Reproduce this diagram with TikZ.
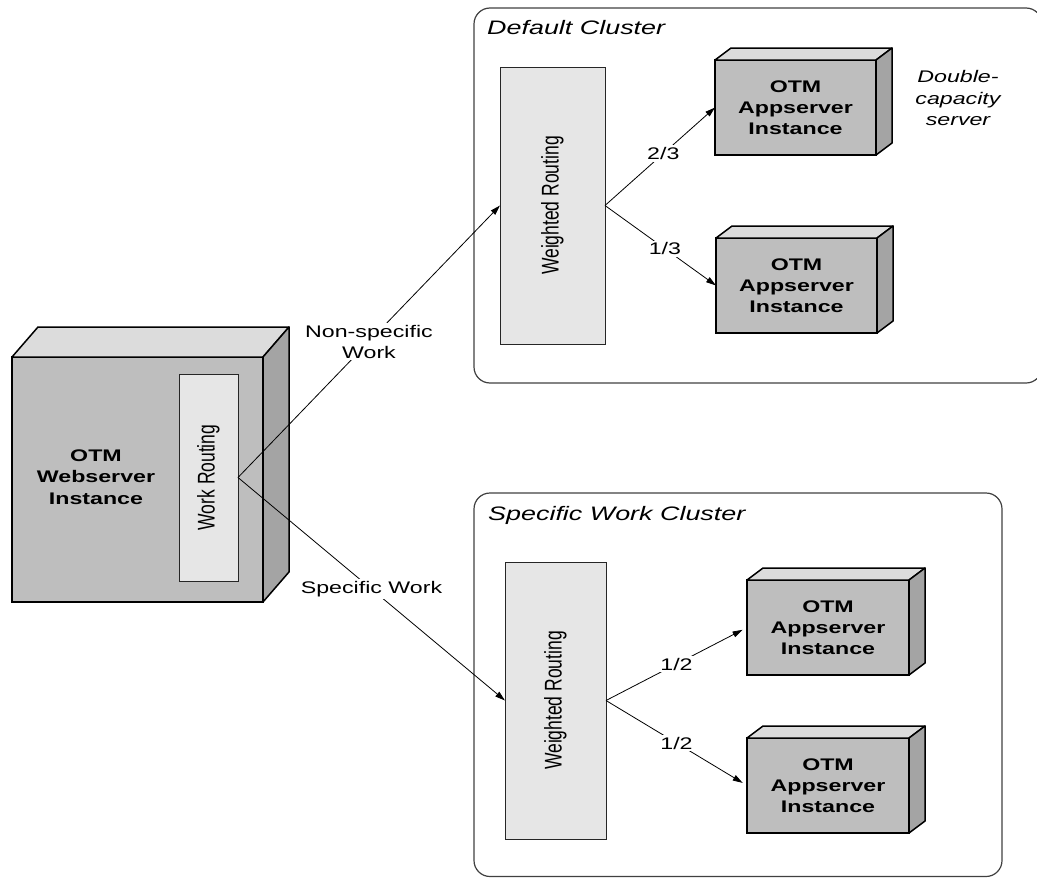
\documentclass[tikz,border=0pt]{standalone}
\usepackage{graphicx}
\usepackage{fontspec}
\setmainfont{Liberation Sans}
\usetikzlibrary{arrows.meta}
\newcommand\sx[1]{\scalebox{1.38}[1]{#1}}
\newcommand\sy[1]{\scalebox{1}[1.38]{#1}}
\definecolor{frontgray}{HTML}{BEBEBE}
\definecolor{topgray}{HTML}{DCDCDC}
\definecolor{sidegray}{HTML}{A4A4A4}
\definecolor{panelgray}{HTML}{E6E6E6}
\newcommand\boxfaces[3]{%
  \draw[faceline, fill=topgray] (#1.north west) -- ++(#2,#3) -- ([shift={(#2,#3)}]#1.north east) -- (#1.north east) -- cycle;
  \draw[faceline, fill=sidegray] (#1.north east) -- ++(#2,#3) -- ([shift={(#2,#3)}]#1.south east) -- (#1.south east) -- cycle;
}
\tikzset{
 faceline/.style={draw=black, line width=1.5pt, line join=round},
 front/.style={draw=black, line width=1.8pt, fill=frontgray, outer sep=0pt, inner sep=0pt,
   font=\bfseries\fontsize{16.8}{21}\selectfont, align=center},
 panel/.style={draw=black!85, line width=0.9pt, fill=panelgray, outer sep=0pt, inner sep=0pt},
 cluster/.style={draw=black!75, line width=1.2pt, rounded corners=16pt},
 conn/.style={draw=black, line width=0.8pt, -{Triangle[length=10pt,width=6pt]}},
 wlabel/.style={fill=white, inner sep=2pt, font=\fontsize{16.8}{21}\selectfont, align=center},
 title/.style={font=\itshape\fontsize{19.5}{23}\selectfont, inner sep=0pt, anchor=west},
 vtext/.style={rotate=90, font=\fontsize{17.5}{21}\selectfont, inner sep=0pt},
 note/.style={font=\itshape\fontsize{16.8}{21.5}\selectfont, inner sep=0pt, align=center},
 boldtext/.style={font=\bfseries\fontsize{16.8}{21.5}\selectfont, inner sep=0pt, align=center},
}
\begin{document}
\begin{tikzpicture}[x=1pt,y=-1pt]
\useasboundingbox (0,0) rectangle (1037,878);

% clusters
\draw[cluster] (474,8) rectangle (1042,383);
\node[title] (t1) at (487,28) {\sx{Default Cluster}};
\draw[cluster] (474,493) rectangle (1002,876.5);
\node[title] (t2) at (488,515) {\sx{Specific Work Cluster}};

% webserver
\node[front, minimum width=251pt, minimum height=245pt] (ws) at (137.5,479.5) {};
\boxfaces{ws}{26}{-30}
\node[boldtext] (wstext) at (96,477) {\sx{OTM}\\\sx{Webserver}\\\sx{Instance}};
\node[panel, minimum width=59pt, minimum height=207pt] (wr) at (208.5,477.5) {};
\node[vtext] (wrtext) at (wr.center) {\sy{Work Routing}};

% weighted routing panels
\node[panel, minimum width=105pt, minimum height=277pt] (wr1) at (552.5,205.5) {};
\node[vtext] (wr1text) at (wr1.center) {\sy{Weighted Routing}};
\node[panel, minimum width=101pt, minimum height=277pt] (wr2) at (555.5,700.5) {};
\node[vtext] (wr2text) at (wr2.center) {\sy{Weighted Routing}};

% appservers
\node[front, minimum width=161pt, minimum height=95pt] (as1) at (795.5,107.5) {\sx{OTM}\\\sx{Appserver}\\\sx{Instance}};
\boxfaces{as1}{16}{-12}
\node[front, minimum width=161pt, minimum height=95pt] (as2) at (796.5,285.5) {\sx{OTM}\\\sx{Appserver}\\\sx{Instance}};
\boxfaces{as2}{16}{-12}
\node[front, minimum width=162pt, minimum height=95pt] (as3) at (828,627.5) {\sx{OTM}\\\sx{Appserver}\\\sx{Instance}};
\boxfaces{as3}{16}{-12}
\node[front, minimum width=162pt, minimum height=95pt] (as4) at (828,785.5) {\sx{OTM}\\\sx{Appserver}\\\sx{Instance}};
\boxfaces{as4}{16}{-12}

\node[note] (dc) at (958,98) {\sx{Double-}\\\sx{capacity}\\\sx{server}};

% connectors
\draw[conn] (wr.east) -- node[wlabel, pos=0.5] {\sx{Non-specific}\\\sx{Work}} (wr1.west);
\draw[conn] (wr.east) -- node[wlabel, pos=0.5] {\sx{Specific Work}} (wr2.west);
\draw[conn] (wr1.east) -- node[wlabel, pos=0.53] {\sx{2/3}} (as1.west);
\draw[conn] (wr1.east) -- node[wlabel, pos=0.54] {\sx{1/3}} (as2.west);
\draw[conn, shorten >=5pt] (wr2.east) -- node[wlabel, pos=0.5] {\sx{1/2}} (as3.west);
\draw[conn, shorten >=5pt] (wr2.east) -- node[wlabel, pos=0.5] {\sx{1/2}} (as4.west);
\end{tikzpicture}
\end{document}
